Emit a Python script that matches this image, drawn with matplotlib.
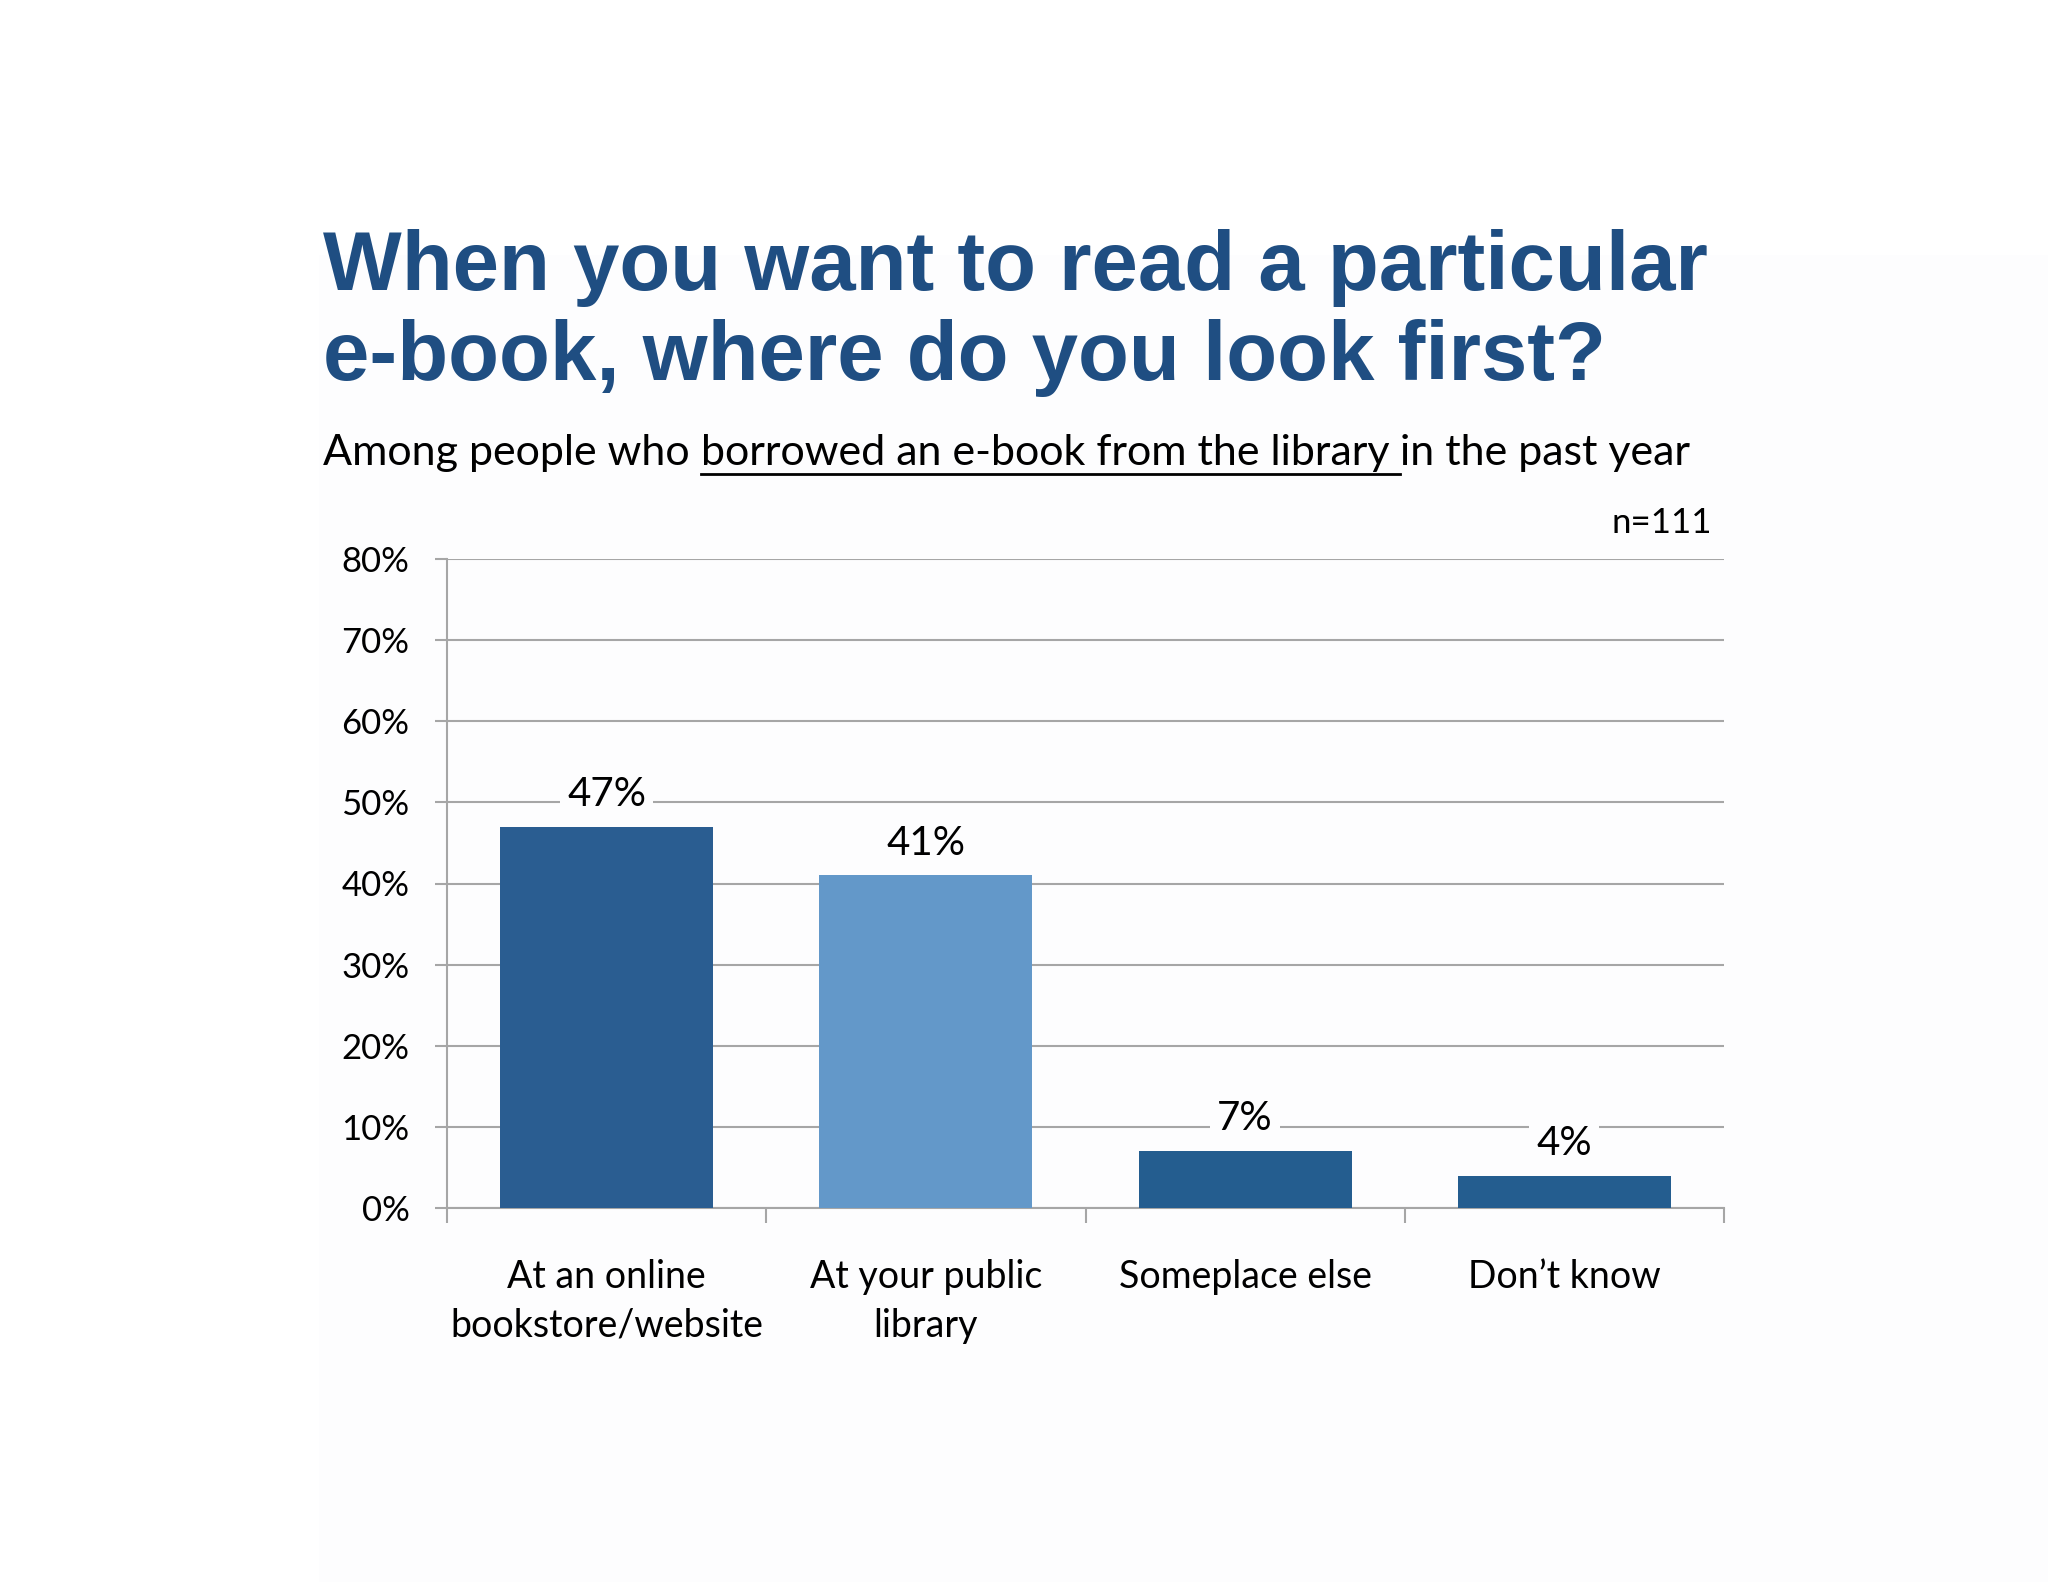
import matplotlib
matplotlib.use("Agg")
import matplotlib.pyplot as plt
from matplotlib.patches import Rectangle

# data
categories = ["At an online\nbookstore/website", "At your public\nlibrary", "Someplace else", "Don\u2019t know"]
values = [47, 41, 7, 4]
bar_colors = ["#2a5d91", "#6398c9", "#245d8f", "#245d8f"]
yticks = [0, 10, 20, 30, 40, 50, 60, 70, 80]

W, H = 2048, 1582
fig = plt.figure(figsize=(W / 100, H / 100), dpi=100)
fig.patch.set_facecolor("white")
fig.patches.append(Rectangle((319 / W, 0), 1, 1 - 255 / H, transform=fig.transFigure,
                             facecolor="#fdfdfe", edgecolor="none", zorder=-5))

body = ["Lato", "DejaVu Sans"]
title_font = ["Liberation Sans", "DejaVu Sans"]
blue = "#1f4e82"
grid_c = "#a6a6a6"

ax = fig.add_axes([447 / W, 1 - 1208 / H, 1277 / W, 649 / H])
ax.set_facecolor("none")
x = list(range(len(categories)))
ax.bar(x, values, width=0.667, color=bar_colors, zorder=3)
ax.set_xlim(-0.5, len(categories) - 0.5)
ax.set_ylim(0, 80)

ax.set_yticks(yticks)
ax.set_yticklabels([f"{v}%" for v in yticks], fontfamily=body, fontsize=25)
ax.yaxis.grid(True, color=grid_c, linewidth=1.5, zorder=0)
ax.tick_params(axis="y", direction="out", length=9, width=1.5, color=grid_c, pad=18)
ax.set_xticks([i - 0.5 for i in range(len(categories) + 1)])
ax.set_xticklabels([])
ax.tick_params(axis="x", direction="out", length=11, width=1.5, color=grid_c)
for s in ["top", "right"]:
    ax.spines[s].set_visible(False)
for s in ["left", "bottom"]:
    ax.spines[s].set_color(grid_c)
    ax.spines[s].set_linewidth(1.5)
ax.set_axisbelow(True)

for xi, v in zip(x, values):
    ax.annotate(f"{v}%", (xi, v), xytext=(0, 15), textcoords="offset points",
                ha="center", va="baseline", fontsize=29, fontfamily=body, zorder=4,
                bbox=dict(boxstyle="square,pad=0.18", facecolor="#fdfdfe", edgecolor="none"))

# category labels, one baseline per line
for xi, lab in zip(x, categories):
    for j, line in enumerate(lab.split("\n")):
        ax.text(xi, -(80 + 49 * j) / 649, line, transform=ax.get_xaxis_transform(),
                ha="center", va="baseline", fontsize=27, fontfamily=body)

# title
fig.text(323 / W, 1 - 290 / H, "When you want to read a particular", fontsize=60,
         fontweight="bold", color=blue, fontfamily=title_font, va="baseline")
fig.text(323 / W, 1 - 380 / H, "e-book, where do you look first?", fontsize=60,
         fontweight="bold", color=blue, fontfamily=title_font, va="baseline")

# subtitle with underlined part
r = fig.canvas.get_renderer()
parts = ["Among people who ", "borrowed an e-book from the library ", "in the past year"]
xpos = 323
sub_y = 1 - 465 / H
for i, p in enumerate(parts):
    t = fig.text(xpos / W, sub_y, p, fontsize=31, fontfamily=body, va="baseline")
    bb = t.get_window_extent(renderer=r)
    if i == 1:
        fig.add_artist(plt.Line2D([bb.x0 / W, bb.x1 / W], [1 - 474 / H] * 2,
                                  transform=fig.transFigure, color="black", linewidth=2))
    xpos = bb.x1

fig.text(1712 / W, 1 - 533 / H, "n=111", fontsize=25, fontfamily=body,
         ha="right", va="baseline")

fig.savefig("out.png", dpi=100, facecolor="white")
